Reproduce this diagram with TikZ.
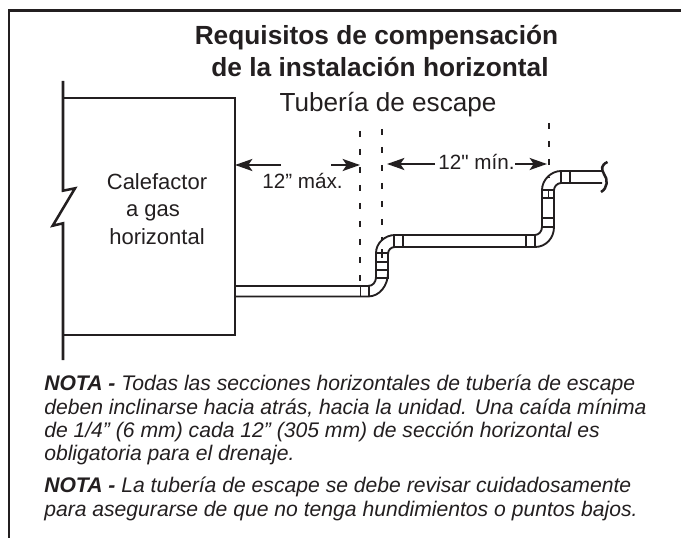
\documentclass[tikz,border=0pt]{standalone}
\usepackage{fontspec}
\setmainfont{Liberation Sans}
\newfontfamily\plainfont{Liberation Sans}
\usetikzlibrary{arrows.meta}
\definecolor{inkdark}{HTML}{231F20}
\tikzset{
  frameline/.style={line width=2.2pt, inkdark},
  wall/.style={line width=1.9pt, inkdark},
  pipe/.style={line width=1.4pt, inkdark},
  coupling/.style={line width=1.3pt, inkdark},
  guide/.style={line width=1.3pt, inkdark, dash pattern=on 4.5pt off 9pt},
  dimarrow/.style={line width=1.6pt, inkdark, -{Stealth[length=13pt,width=9pt,inset=3pt]}},
  titletext/.style={inner sep=0, anchor=base, inkdark, font=\fontsize{19.7pt}{23pt}\bfseries},
  subtext/.style={inner sep=0, anchor=base, inkdark, font=\fontsize{19.6pt}{23pt}\selectfont},
  bodytext/.style={inner sep=0, anchor=base, inkdark, font=\fontsize{16.5pt}{20pt}\selectfont},
  dimtext/.style={inner sep=0, anchor=base, inkdark, font=\fontsize{15.5pt}{19pt}\selectfont},
  notetext/.style={inner sep=0, anchor=base west, inkdark, font=\fontsize{15.85pt}{18pt}\itshape}
}
\begin{document}
\begin{tikzpicture}[x=0.75pt, y=-0.75pt]
    \useasboundingbox (0,0) rectangle (681,538);

    % Outer frame
    \draw[frameline] (9,538) -- (9,10.5) -- (681,10.5);

    % Titles
    \node[titletext] (title1) at (376.5,45) {Requisitos de compensación};
    \node[titletext] (title2) at (380,76.5) {de la instalación horizontal};
    \node[subtext] (subtitle) at (388,111.5) {Tubería de escape};

    % Furnace
    \draw[wall] (63,81) -- (63,190.7) -- (75,188.3) -- (52.7,225.7) -- (63,223.3) -- (63,360);
    \draw[wall] (63,98) -- (235,98) -- (235,335) -- (63,335);
    \node[bodytext] (furnace1) at (157,190) {Calefactor};
    \node[bodytext] (furnace2) at (153,217) {a gas};
    \node[bodytext] (furnace3) at (157,244) {horizontal};

    % Guide lines
    \draw[guide] (360,131) -- (360,286);
    \draw[guide] (382,129) -- (382,241);
    \draw[guide] (548.7,123) -- (548.7,178);

    % Dimensions
    \coordinate (wallmark) at (235,165);
    \coordinate (maxleft) at (281,165);
    \coordinate (maxright) at (331,165);
    \coordinate (maxmark) at (360,165);
    \coordinate (minleft) at (435,164);
    \coordinate (minmark1) at (387,164);
    \coordinate (minright) at (515,164);
    \coordinate (minmark2) at (547,164);
    \draw[dimarrow] (maxleft) -- (wallmark);
    \draw[dimarrow] (maxright) -- (maxmark);
    \draw[dimarrow] (minleft) -- (minmark1);
    \draw[dimarrow] (minright) -- (minmark2);
    \node[dimtext] (maxlabel) at (302.5,189) {12” máx.};
    \node[dimtext] (minlabel) at (476.5,170) {\plainfont 12" mín.};

    % Pipe, first offset
    \draw[pipe] (236,286) -- (368,286) .. controls (373,286) and (376,282) .. (376,277)
        -- (376,253) .. controls (376,243) and (385,235) .. (395,235) -- (535,235)
        .. controls (539,235) and (542,231) .. (542,227) -- (542,190)
        .. controls (542,180) and (551,171) .. (561,171) -- (602,171);
    \draw[pipe] (236,296.5) -- (368,296.5) .. controls (380,296.5) and (388,285) .. (388,273)
        -- (388,254) .. controls (388,250) and (391,247) .. (395,247) -- (535,247)
        .. controls (546,247) and (554,238) .. (554,227) -- (554,190)
        .. controls (554,187) and (557,183) .. (561,183) -- (602,183);

    % Couplings
    \draw[coupling] (360.5,286) rectangle (369,296.5);
    \draw[coupling] (376,270) rectangle (388,278);
    \draw[coupling] (376,262) rectangle (388,270);
    \draw[coupling] (376,253) rectangle (388,262);
    \draw[coupling] (382,249) -- (382,258);
    \draw[coupling] (394,235) rectangle (403,247);
    \draw[coupling] (526,235) rectangle (535,247);
    \draw[coupling] (542,218) rectangle (554,227);
    \draw[coupling] (542,190) rectangle (554,198);
    \draw[coupling] (548.5,190) -- (548.5,198);
    \draw[coupling] (561,171) rectangle (570,183);

    % Pipe end
    \draw[wall] (607.5,162) .. controls (601,165) and (601,169) .. (604,174)
        .. controls (608,179) and (608,188) .. (601,192);

    % Notes
    \node[notetext] (note1) at (44,390) {\textbf{NOTA -} Todas las secciones horizontales de tubería de escape};
    \node[notetext] (note2) at (44,414) {deben inclinarse hacia atrás, hacia la unidad. Una caída mínima};
    \node[notetext] (note3) at (44,437) {de 1/4” (6 mm) cada 12” (305 mm) de sección horizontal es};
    \node[notetext] (note4) at (44,460.5) {obligatoria para el drenaje.};
    \node[notetext] (note5) at (44,492.5) {\textbf{NOTA -} La tubería de escape se debe revisar cuidadosamente};
    \node[notetext] (note6) at (44,516.5) {para asegurarse de que no tenga hundimientos o puntos bajos.};
\end{tikzpicture}
\end{document}
